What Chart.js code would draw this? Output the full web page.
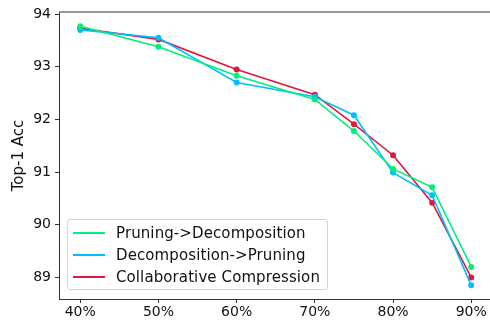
<!DOCTYPE html>
<html lang="en">
<head>
<meta charset="UTF-8">
<title>Top-1 Acc</title>
<script src="https://cdn.jsdelivr.net/npm/chart.js"></script>
<style>
    html, body {
        margin: 0;
        padding: 0;
        background: #ffffff;
        overflow: hidden;
    }
    .wrap {
        position: relative;
        width: 490px;
        height: 322px;
    }
    .legend {
        position: absolute;
        left: 67px;
        top: 219px;
        width: 261px;
        height: 71px;
        border: 1px solid #d4d4d4;
        border-radius: 3px;
        background: rgba(255, 255, 255, 0.85);
        font-family: 'DejaVu Sans', sans-serif;
        font-size: 15px;
        color: #111;
        box-sizing: border-box;
    }
    .legend .row {
        position: absolute;
        left: 0;
        height: 20px;
        line-height: 20px;
        white-space: nowrap;
    }
    .legend .swatch {
        position: absolute;
        left: 5px;
        top: 9px;
        width: 32px;
        height: 2px;
    }
    .legend .label {
        position: absolute;
        left: 48px;
        top: 0;
        letter-spacing: 0.1px;
    }
</style>
</head>
<body>
<div class="wrap">
    <canvas id="chart" width="490" height="322"></canvas>
    <div class="legend" id="legend"></div>
</div>

<script>
    // sparsity levels (%) and accuracy of each method
    const sparsity = [40, 50, 60, 70, 75, 80, 85, 90];
    const xTicks = [40, 50, 60, 70, 80, 90];
    const yTicks = [89, 90, 91, 92, 93, 94];

    const seriesNames = ['Pruning->Decomposition', 'Decomposition->Pruning', 'Collaborative Compression'];
    const pruneThenDecomp = [93.77, 93.38, 92.83, 92.38, 91.78, 91.06, 90.71, 89.20];
    const decompThenPrune = [93.70, 93.55, 92.70, 92.43, 92.08, 90.99, 90.56, 88.85];
    const collaborative = [93.73, 93.52, 92.95, 92.47, 91.91, 91.32, 90.42, 89.00];

    const colors = ['#00f07a', '#00bfff', '#e0173f'];
    const values = [pruneThenDecomp, decompThenPrune, collaborative];

    const datasets = seriesNames.map(function(name, i) {
        return {
            label: name,
            data: sparsity.map(function(x, j) { return { x: x, y: values[i][j] }; }),
            borderColor: colors[i],
            backgroundColor: colors[i],
            borderWidth: 1.6,
            pointRadius: 2.2,
            pointHoverRadius: 2.2,
            tension: 0,
            fill: false
        };
    });

    // ligne du haut du cadre (spine)
    const topSpine = {
        id: 'topSpine',
        afterDraw(chart) {
            const a = chart.chartArea;
            const ctx = chart.ctx;
            ctx.save();
            ctx.strokeStyle = '#777';
            ctx.lineWidth = 1.5;
            ctx.beginPath();
            ctx.moveTo(a.left, a.top);
            ctx.lineTo(a.right, a.top);
            ctx.stroke();
            ctx.restore();
        }
    };

    const tickFont = { family: "'DejaVu Sans', sans-serif", size: 14 };

    new Chart(document.getElementById('chart'), {
        type: 'line',
        data: { datasets: datasets },
        plugins: [topSpine],
        options: {
            responsive: false,
            animation: false,
            events: [],
            layout: { autoPadding: false, padding: { top: 12, right: 0, left: 0, bottom: 0 } },
            plugins: {
                legend: { display: false },
                tooltip: { enabled: false }
            },
            scales: {
                x: {
                    type: 'linear',
                    min: 37.28,
                    max: 92.4,
                    afterBuildTicks: function(scale) {
                        scale.ticks = xTicks.map(function(v) { return { value: v }; });
                    },
                    afterFit: function(scale) {
                        scale.height = 23;
                        scale.paddingLeft = 0;
                        scale.paddingRight = 0;
                    },
                    ticks: {
                        callback: function(v) { return v + '%'; },
                        font: tickFont,
                        color: '#111',
                        padding: 1,
                        maxRotation: 0,
                        autoSkip: false
                    },
                    grid: { drawOnChartArea: false, drawTicks: true, tickLength: 4, color: '#333' },
                    border: { display: true, color: '#333', width: 1 }
                },
                y: {
                    min: 88.59,
                    max: 94.04,
                    afterBuildTicks: function(scale) {
                        scale.ticks = yTicks.map(function(v) { return { value: v }; });
                    },
                    afterFit: function(scale) {
                        scale.width = 59;
                        scale.paddingTop = 0;
                        scale.paddingBottom = 0;
                    },
                    title: {
                        display: true,
                        text: 'Top-1 Acc',
                        font: { family: "'DejaVu Sans', sans-serif", size: 15 },
                        color: '#111',
                        padding: { top: 10, bottom: 0 }
                    },
                    ticks: {
                        font: tickFont,
                        color: '#111',
                        padding: 4
                    },
                    grid: { drawOnChartArea: false, drawTicks: true, tickLength: 4, color: '#333' },
                    border: { display: true, color: '#333', width: 1 }
                }
            }
        }
    });

    // légende HTML à l'intérieur du graphique
    const legend = document.getElementById('legend');
    const rowTops = [3, 25, 47];
    seriesNames.forEach(function(name, i) {
        const row = document.createElement('div');
        row.className = 'row';
        row.style.top = rowTops[i] + 'px';
        row.innerHTML = '<span class="swatch" style="background:' + colors[i] + '"></span>' +
                        '<span class="label">' + name.replace(/>/g, '&gt;') + '</span>';
        legend.appendChild(row);
    });
</script>
</body>
</html>
